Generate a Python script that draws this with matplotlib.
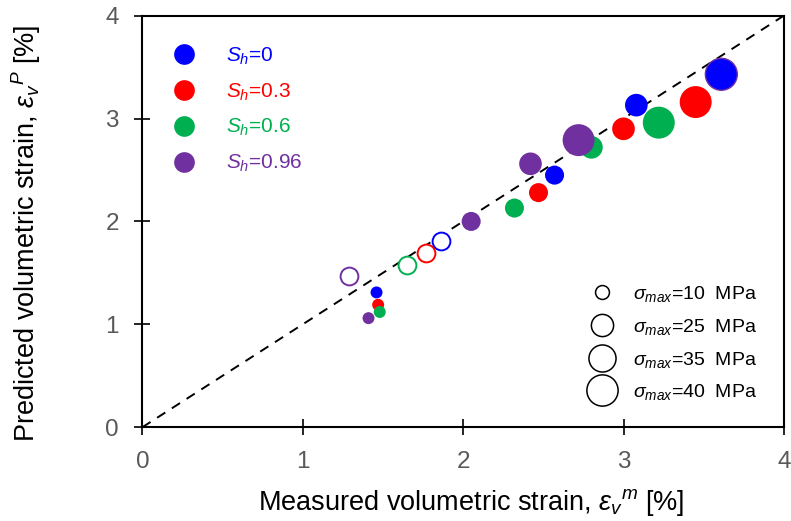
import matplotlib
matplotlib.use("Agg")
import matplotlib.pyplot as plt
from matplotlib.lines import Line2D
import numpy as np

plt.rcParams['font.family'] = ['Liberation Sans', 'DejaVu Sans']
plt.rcParams['mathtext.fontset'] = 'custom'
plt.rcParams['mathtext.rm'] = 'Liberation Sans'
plt.rcParams['mathtext.it'] = 'Liberation Sans:italic'
plt.rcParams['mathtext.bf'] = 'Liberation Sans:bold'

# measured / predicted volumetric strain [%] and peak stress [MPa] per hydrate saturation
sh_levels = ['0', '0.3', '0.6', '0.96']
colors = ['#0000FF', '#FF0000', '#00B050', '#7030A0']

meas_sh0 = [1.46, 2.57, 3.08, 3.61]
pred_sh0 = [1.31, 2.45, 3.13, 3.43]
meas_sh03 = [1.47, 2.47, 3.00, 3.45]
pred_sh03 = [1.19, 2.28, 2.90, 3.16]
meas_sh06 = [1.48, 2.32, 2.80, 3.22]
pred_sh06 = [1.12, 2.13, 2.72, 2.96]
meas_sh096 = [1.41, 2.05, 2.42, 2.72]
pred_sh096 = [1.06, 2.00, 2.56, 2.79]
sigma_max = [10, 25, 35, 40]

# open symbols
open_meas = [1.86, 1.77, 1.65, 1.29]
open_pred = [1.81, 1.69, 1.58, 1.47]

measured = [meas_sh0, meas_sh03, meas_sh06, meas_sh096]
predicted = [pred_sh0, pred_sh03, pred_sh06, pred_sh096]

# marker diameter in points for each stress level
marker_d = {10: 8.6, 25: 13.7, 35: 16.3, 40: 23.0}
legend_d = {10: 10.0, 25: 16.0, 35: 19.5, 40: 22.5}

fig = plt.figure(figsize=(7.91, 5.21), dpi=100)
ax = fig.add_axes([0.180, 0.180, 0.811, 0.790])

ax.plot([0, 4], [0, 4], color='black', ls=(0, (5, 4)), lw=1.4, zorder=1)

for i, (xs, ys, c) in enumerate(zip(measured, predicted, colors)):
    sizes = [marker_d[s] ** 2 for s in sigma_max]
    edges = ['none'] * len(xs)
    if i == 0:
        edges[-1] = colors[3]
    ax.scatter(xs, ys, s=sizes, color=c, edgecolors=edges, linewidths=1.0, zorder=3)

for xo, yo, c in zip(open_meas, open_pred, colors):
    ax.scatter(xo, yo, s=12.8 ** 2, facecolors='white', edgecolors=c,
               linewidths=1.4, zorder=3)

ax.set_xlim(0, 4)
ax.set_ylim(0, 4)
ax.set_xticks([0, 1, 2, 3, 4])
ax.set_yticks([0, 1, 2, 3, 4])
ax.tick_params(direction='inout', length=12, width=1.2, labelsize=17.5,
               labelcolor='#595959', pad=11)
for sp in ax.spines.values():
    sp.set_linewidth(1.5)

ax.set_xlabel(r'Measured volumetric strain, $\varepsilon_v{}^m$ [%]', fontsize=19.5)
ax.set_ylabel(r'Predicted volumetric strain, $\varepsilon_v{}^P$ [%]', fontsize=19.5)
ax.xaxis.set_label_coords(0.513, -0.145)
ax.yaxis.set_label_coords(-0.155, 0.47)

sh_handles = [Line2D([], [], ls='none', marker='o', markersize=14.9,
                     markerfacecolor=c, markeredgecolor='none') for c in colors]
sh_labels = [r'$S_h$=' + v for v in sh_levels]
leg1 = ax.legend(sh_handles, sh_labels, loc='upper left', bbox_to_anchor=(0.02, 0.948),
                 frameon=False, fontsize=15, handletextpad=1.0, labelspacing=0.7,
                 borderaxespad=0)
for t, c in zip(leg1.get_texts(), colors):
    t.set_color(c)
ax.add_artist(leg1)

size_handles = [Line2D([], [], ls='none', marker='o', markersize=legend_d[s],
                       markerfacecolor='white', markeredgecolor='black',
                       markeredgewidth=1.1) for s in sigma_max]
size_labels = [r'$\sigma_{max}$=%d  MPa' % s for s in sigma_max]
ax.legend(size_handles, size_labels, loc='lower right', bbox_to_anchor=(0.97, 0.042),
          frameon=False, fontsize=14, handletextpad=0.6, labelspacing=0.65,
          borderaxespad=0)

fig.savefig('out.png', dpi=100)
